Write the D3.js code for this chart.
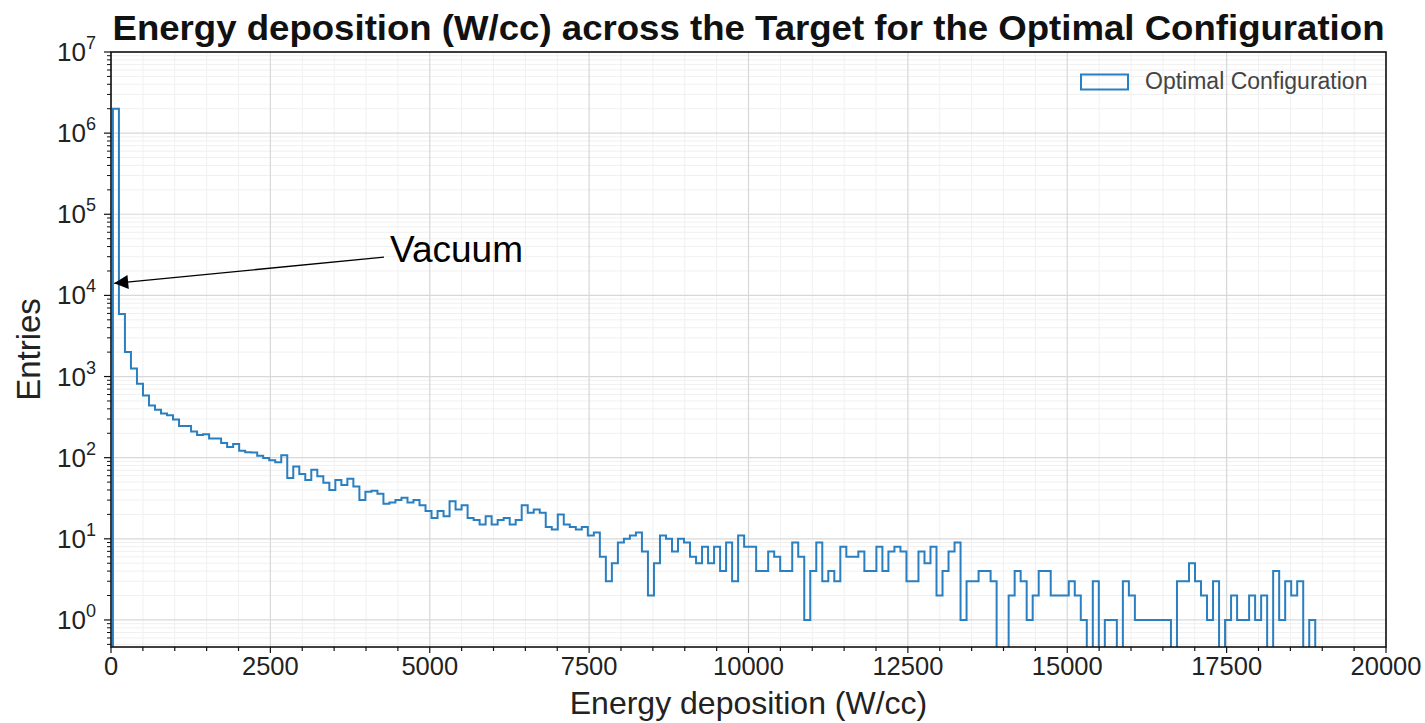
<!DOCTYPE html>
<html><head><meta charset="utf-8">
<script src="https://cdn.jsdelivr.net/npm/d3@7"></script>
<style>body{margin:0;background:#fff} text{font-family:"Liberation Sans",Arial,sans-serif}</style>
</head><body><svg id="c" width="1425" height="723"></svg>
<script>
// ---- data ----
const counts = [
 2000000,5900,2000,1260,815,585,440,390,350,333,
 295,245,245,210,190,195,172,172,152,135,
 147,122,117,116,106,99,93,88,107,56,
 78,63,53,71,59,49,40,53,46,55,
 44,30,38,39,36,27,28,30,32,28,
 30,26,22,18,22,19,29,23,26,18,
 17,15,19,15,17,18,15,17,26,21,
 23,21,14,13,20,15,14,13,14,11,
 12,6,3,5,9,10,11,12,7,2,
 5,11,10,7,10,9,6,5,8,5,
 8,4,9,3,11,8,8,4,4,7,
 6,4,4,9,6,1,4,9,3,4,
 3,8,6,6,7,4,4,8,4,7,
 8,7,3,3,7,5,8,2,4,7,
 9,1,3,3,4,4,3,0,0,2,
 4,3,1,2,4,4,2,2,2,3,
 2,1,0,3,0,1,1,0,3,2,
 1,1,1,1,1,1,0,3,3,5,
 3,2,1,3,0,1,2,1,1,2,
 1,2,0,4,1,3,2,3,0,1
];
const binStart = 30, binEnd = 18890;
const xTicks = [0,2500,5000,7500,10000,12500,15000,17500,20000];
const yTickExps = [0,1,2,3,4,5,6,7];
const titleText = "Energy deposition (W/cc) across the Target for the Optimal Configuration";
const xLabelText = "Energy deposition (W/cc)";
const yLabelText = "Entries";
const legendLabel = "Optimal Configuration";
const annotationText = "Vacuum";
const annotationTip = [50, 14100];
const annotationTextPos = [4376, 25700];

// ---- layout ----
const L = 111, R = 1386, T = 52, B = 647;
const svg = d3.select("#c");
const x = d3.scaleLinear([0, 20000], [L, R]);
const y = d3.scaleLog([Math.pow(10, -1/3), 1e7], [B, T]);
const blue = "#2a7fc0";

svg.append("defs").append("clipPath").attr("id","clip")
  .append("rect").attr("x",L).attr("y",T).attr("width",R-L).attr("height",B-T);

// grid
const minorX = d3.range(0, 20001, 500).filter(v => v % 2500 !== 0);
const minorY = [];
for (let e = -1; e < 7; e++) for (let m = 2; m <= 9; m++) { const v = m*Math.pow(10,e); if (v >= y.domain()[0] && v <= 1e7) minorY.push(v); }
const g = svg.append("g");
g.selectAll(".mx").data(minorX).join("line").attr("x1",d=>x(d)).attr("x2",d=>x(d)).attr("y1",T).attr("y2",B).attr("stroke","#f0f0f0").attr("stroke-width",1);
g.selectAll(".my").data(minorY).join("line").attr("x1",L).attr("x2",R).attr("y1",d=>y(d)).attr("y2",d=>y(d)).attr("stroke","#f0f0f0").attr("stroke-width",1);
g.selectAll(".Mx").data(xTicks).join("line").attr("x1",d=>x(d)).attr("x2",d=>x(d)).attr("y1",T).attr("y2",B).attr("stroke","#d8d8d8").attr("stroke-width",1.2);
g.selectAll(".My").data(yTickExps).join("line").attr("x1",L).attr("x2",R).attr("y1",d=>y(Math.pow(10,d))).attr("y2",d=>y(Math.pow(10,d))).attr("stroke","#d8d8d8").attr("stroke-width",1.2);

// histogram step
const bw = (binEnd - binStart) / counts.length;
const floorVal = 0.05;
const pts = [[binStart, floorVal]];
counts.forEach((c,i) => pts.push([binStart + i*bw, c > 0 ? c : floorVal]));
pts.push([binEnd, counts[counts.length-1] || floorVal]);
pts.push([binEnd, floorVal]);
const line = d3.line().x(d=>x(d[0])).y(d=>y(d[1])).curve(d3.curveStepAfter);
svg.append("path").attr("d", line(pts)).attr("fill","none").attr("stroke",blue).attr("stroke-width",2).attr("clip-path","url(#clip)");

// frame
svg.append("rect").attr("x",L).attr("y",T).attr("width",R-L).attr("height",B-T).attr("fill","none").attr("stroke","#111").attr("stroke-width",1.6);

// x ticks
const ax = svg.append("g");
ax.selectAll(".xt").data(d3.range(0,20001,500)).join("line").attr("x1",d=>x(d)).attr("x2",d=>x(d)).attr("y1",B).attr("y2",d=> B + (d%2500===0?6:4)).attr("stroke","#111").attr("stroke-width",1.2);
ax.selectAll(".xl").data(xTicks).join("text").attr("x",d=>x(d)).attr("y",B+28).attr("text-anchor","middle").attr("font-size",25.5).attr("fill","#222").text(d=>d);

// y ticks
ax.selectAll(".ymt").data(minorY).join("line").attr("x1",L-4).attr("x2",L).attr("y1",d=>y(d)).attr("y2",d=>y(d)).attr("stroke","#111").attr("stroke-width",1);
ax.selectAll(".yMt").data(yTickExps).join("line").attr("x1",L-7).attr("x2",L).attr("y1",d=>y(Math.pow(10,d))).attr("y2",d=>y(Math.pow(10,d))).attr("stroke","#111").attr("stroke-width",1.2);
const yl = ax.selectAll(".yl").data(yTickExps).join("text").attr("x",L-15).attr("y",d=>y(Math.pow(10,d))+9).attr("text-anchor","end").attr("font-size",26).attr("fill","#222");
yl.append("tspan").text("10");
yl.append("tspan").attr("dy",-12).attr("font-size",18).text(d=>d);

// labels
svg.append("text").attr("x",(L+R)/2).attr("y",40).attr("text-anchor","middle").attr("font-size",35).attr("font-weight","bold").attr("fill","#111")
  .attr("textLength",1272).attr("lengthAdjust","spacingAndGlyphs").text(titleText);
svg.append("text").attr("x",(L+R)/2).attr("y",714).attr("text-anchor","middle").attr("font-size",32).attr("fill","#222").text(xLabelText);
svg.append("text").attr("transform",`translate(40,${(T+B)/2}) rotate(-90)`).attr("text-anchor","middle").attr("font-size",33).attr("fill","#222").text(yLabelText);

// legend
svg.append("rect").attr("x",1081).attr("y",74.5).attr("width",47).attr("height",15).attr("fill","none").attr("stroke",blue).attr("stroke-width",2);
svg.append("text").attr("x",1145).attr("y",89).attr("font-size",23).attr("fill","#444").text(legendLabel);

// annotation
const defs = svg.select("defs");
defs.append("marker").attr("id","ah").attr("viewBox","0 0 10 10").attr("refX",10).attr("refY",5).attr("markerWidth",16).attr("markerHeight",14).attr("markerUnits","userSpaceOnUse").attr("orient","auto")
  .append("path").attr("d","M0,0 L10,5 L0,10 z").attr("fill","#000");
svg.append("line").attr("x1",x(annotationTextPos[0])-6).attr("y1",y(annotationTextPos[1])-5)
  .attr("x2",x(annotationTip[0])).attr("y2",y(annotationTip[1])).attr("stroke","#000").attr("stroke-width",1.3).attr("marker-end","url(#ah)");
svg.append("text").attr("x",x(annotationTextPos[0])).attr("y",y(annotationTextPos[1])).attr("font-size",37).attr("fill","#000").text(annotationText);
</script></body></html>
